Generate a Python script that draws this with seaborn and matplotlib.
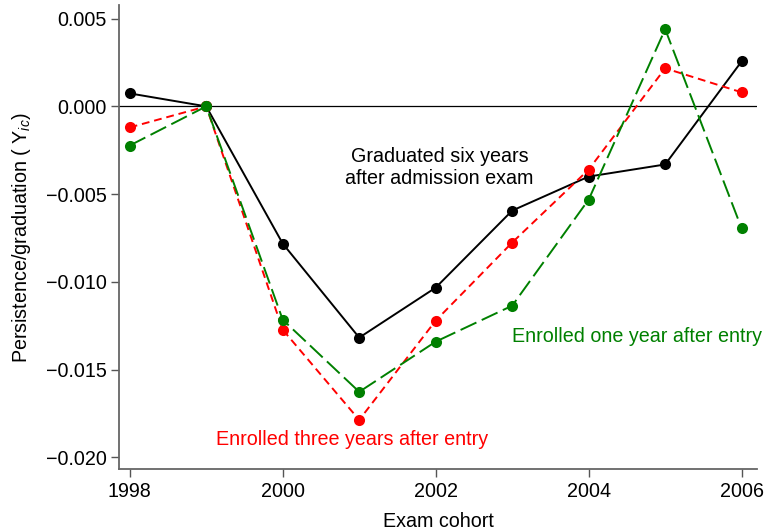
import matplotlib
matplotlib.use("Agg")
import matplotlib.pyplot as plt
import seaborn as sns
import pandas as pd

years = [1998, 1999, 2000, 2001, 2002, 2003, 2004, 2005, 2006]
graduated = [0.00074, 0.0, -0.00782, -0.01318, -0.01033, -0.00594, -0.00400, -0.00331, 0.00257]
enrolled_three = [-0.00120, 0.0, -0.01273, -0.01787, -0.01221, -0.00776, -0.00360, 0.00217, 0.00080]
enrolled_one = [-0.00223, 0.0, -0.01216, -0.01627, -0.01341, -0.01136, -0.00531, 0.00440, -0.00696]
xticks = [1998, 2000, 2002, 2004, 2006]
yticks = [0.005, 0.0, -0.005, -0.010, -0.015, -0.020]

sns.set_theme(style="ticks")
plt.rcParams['font.family'] = ['Liberation Sans', 'DejaVu Sans']
plt.rcParams['mathtext.fontset'] = 'custom'
plt.rcParams['mathtext.rm'] = 'Liberation Sans'
plt.rcParams['mathtext.it'] = 'Liberation Sans:italic'
plt.rcParams['text.color'] = 'black'
plt.rcParams['axes.labelcolor'] = 'black'
plt.rcParams['xtick.labelcolor'] = 'black'
plt.rcParams['ytick.labelcolor'] = 'black'

FS = 14.2

fig = plt.figure(figsize=(7.64, 5.32), dpi=100)
ax = fig.add_axes([0.1558, 0.118, 0.835, 0.872])

ax.axhline(0, color='black', lw=0.9, zorder=1)

df_g = pd.DataFrame({'year': years, 'v': graduated})
df_r = pd.DataFrame({'year': years, 'v': enrolled_three})
df_e = pd.DataFrame({'year': years, 'v': enrolled_one})

sns.lineplot(data=df_g, x='year', y='v', ax=ax, color='black', lw=1.4,
             marker='o', markersize=8, markeredgewidth=0)
sns.lineplot(data=df_r, x='year', y='v', ax=ax, color='#ff0000', lw=1.4,
             marker='o', markersize=8, markeredgewidth=0)
ax.lines[-1].set_dashes([4, 2.5])
sns.lineplot(data=df_e, x='year', y='v', ax=ax, color='#008000', lw=1.4,
             marker='o', markersize=8, markeredgewidth=0)
ax.lines[-1].set_dashes([9, 3])

ax.set_xlim(1997.86, 2006.2)
ax.set_ylim(-0.02068, 0.00576)
ax.set_xticks(xticks)
ax.set_xticklabels([str(x) for x in xticks])
ax.set_yticks(yticks)
ax.set_yticklabels(['0.005', '0.000', '\u22120.005', '\u22120.010', '\u22120.015', '\u22120.020'])
ax.tick_params(labelsize=FS, length=6, width=1, color='#555555', pad=3)

for s in ['top', 'right']:
    ax.spines[s].set_visible(False)
for s in ['left', 'bottom']:
    ax.spines[s].set_color('#666666')
    ax.spines[s].set_linewidth(1.3)

ax.set_xlabel('Exam cohort', fontsize=FS, labelpad=8)
ax.set_ylabel(r'Persistence/graduation ( Y$_{\it{ic}}$)', fontsize=FS, labelpad=9)

ax.text(2002.05, -0.0035, 'Graduated six years\nafter admission exam', ha='center', va='center',
        fontsize=FS, color='black', linespacing=1.2)
ax.text(2003.0, -0.0131, 'Enrolled one year after entry', ha='left', va='center',
        fontsize=FS, color='#008000')
ax.text(2000.91, -0.0190, 'Enrolled three years after entry', ha='center', va='center',
        fontsize=FS, color='#ff0000')

fig.savefig('out.png', dpi=100)
